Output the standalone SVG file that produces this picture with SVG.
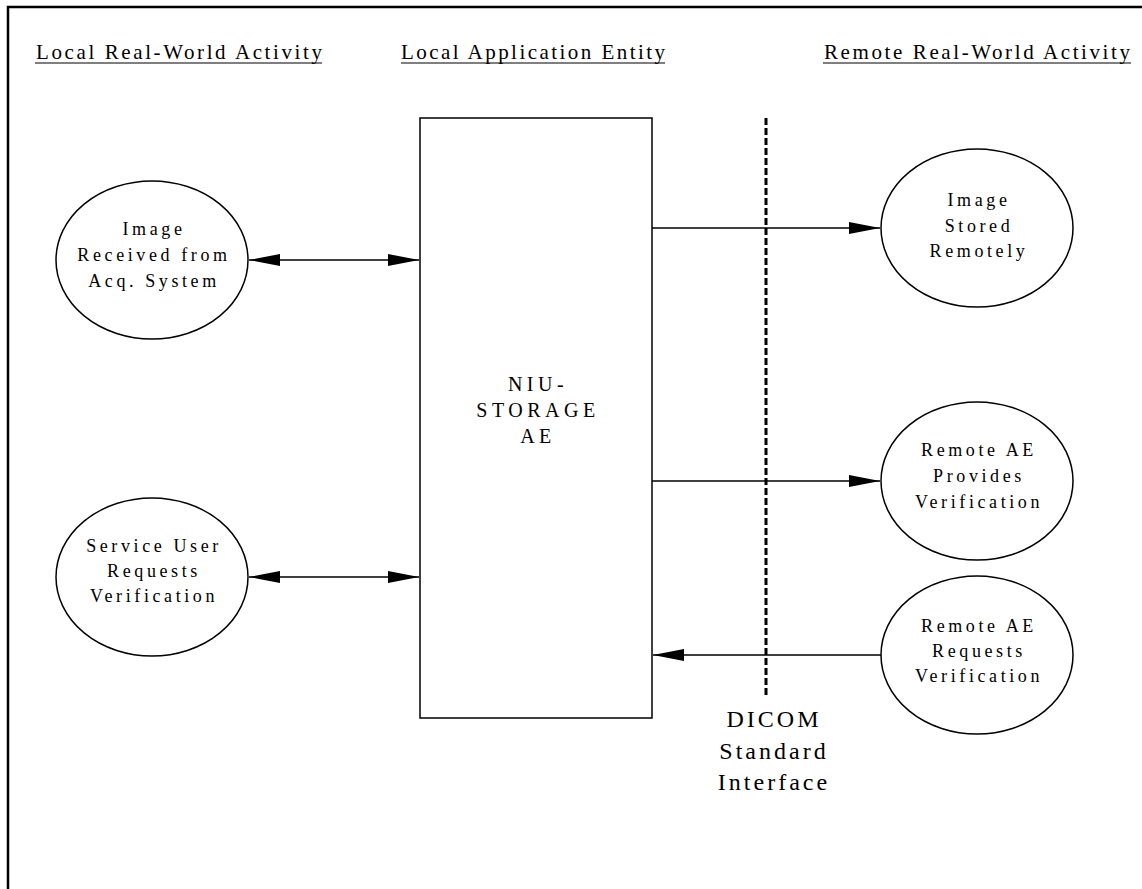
<svg xmlns="http://www.w3.org/2000/svg" width="1142" height="889" viewBox="0 0 1142 889" font-family="'Liberation Serif', 'Times New Roman', Times, 'DejaVu Serif', serif">
<style>
text{fill:#000}
.hdr{font-size:21px}
.lbl{font-size:18px;letter-spacing:3.6px;text-anchor:middle}
.big{font-size:24px;letter-spacing:3px;text-anchor:middle}
.node{fill:#fff;stroke:#000;stroke-width:1.5}
.conn{stroke:#000;stroke-width:1.5;fill:none}
</style>
<defs>
<marker id="ah" markerUnits="userSpaceOnUse" markerWidth="32" markerHeight="14" refX="31" refY="7" orient="auto-start-reverse">
<path d="M0,1 L31,7 L0,13 Z" fill="#000"/>
</marker>
</defs>
<rect x="8" y="7" width="1140" height="890" fill="#fff" stroke="#000" stroke-width="2.5"/>
<g id="headers">
<text class="hdr" x="36" y="59" textLength="286" lengthAdjust="spacing">Local Real-World Activity</text>
<line x1="35" y1="63" x2="322" y2="63" stroke="#000" stroke-width="1.2"/>
<text class="hdr" x="401" y="59" textLength="264" lengthAdjust="spacing">Local Application Entity</text>
<line x1="401" y1="63" x2="665" y2="63" stroke="#000" stroke-width="1.2"/>
<text class="hdr" x="824" y="59" textLength="306" lengthAdjust="spacing">Remote Real-World Activity</text>
<line x1="823" y1="63" x2="1131" y2="63" stroke="#000" stroke-width="1.2"/>
</g>
<g id="connectors">
<line class="conn" x1="249" y1="260" x2="419" y2="260" marker-start="url(#ah)" marker-end="url(#ah)"/>
<line class="conn" x1="249" y1="577" x2="419" y2="577" marker-start="url(#ah)" marker-end="url(#ah)"/>
<line class="conn" x1="652" y1="228" x2="880" y2="228" marker-end="url(#ah)"/>
<line class="conn" x1="652" y1="481" x2="880" y2="481" marker-end="url(#ah)"/>
<line class="conn" x1="881" y1="655" x2="653" y2="655" marker-end="url(#ah)"/>
</g>
<g id="dicom-interface">
<line x1="766" y1="118" x2="766" y2="695" stroke="#000" stroke-width="3" stroke-dasharray="7,3"/>
<text class="big"><tspan x="774" y="727">DICOM</tspan><tspan x="774" y="759">Standard</tspan><tspan x="774" y="790">Interface</tspan></text>
</g>
<g id="niu-storage-ae">
<rect class="node" x="420" y="118" width="232" height="600"/>
<text class="lbl" style="font-size:20px;letter-spacing:4.5px"><tspan x="538" y="391">NIU-</tspan><tspan x="538" y="417">STORAGE</tspan><tspan x="538" y="443">AE</tspan></text>
</g>
<g id="image-received">
<ellipse class="node" cx="152" cy="260" rx="96" ry="79"/>
<text class="lbl"><tspan x="154" y="235">Image</tspan><tspan x="154" y="261">Received from</tspan><tspan x="154" y="287">Acq. System</tspan></text>
</g>
<g id="service-user">
<ellipse class="node" cx="152" cy="577" rx="96" ry="79"/>
<text class="lbl"><tspan x="154" y="552">Service User</tspan><tspan x="154" y="577">Requests</tspan><tspan x="154" y="602">Verification</tspan></text>
</g>
<g id="image-stored">
<ellipse class="node" cx="977" cy="228" rx="96" ry="79"/>
<text class="lbl"><tspan x="979" y="206">Image</tspan><tspan x="979" y="232">Stored</tspan><tspan x="979" y="257">Remotely</tspan></text>
</g>
<g id="remote-provides">
<ellipse class="node" cx="977" cy="481" rx="96" ry="79"/>
<text class="lbl"><tspan x="979" y="456">Remote AE</tspan><tspan x="979" y="482">Provides</tspan><tspan x="979" y="508">Verification</tspan></text>
</g>
<g id="remote-requests">
<ellipse class="node" cx="977" cy="655" rx="96" ry="79"/>
<text class="lbl"><tspan x="979" y="632">Remote AE</tspan><tspan x="979" y="657">Requests</tspan><tspan x="979" y="682">Verification</tspan></text>
</g>
</svg>
